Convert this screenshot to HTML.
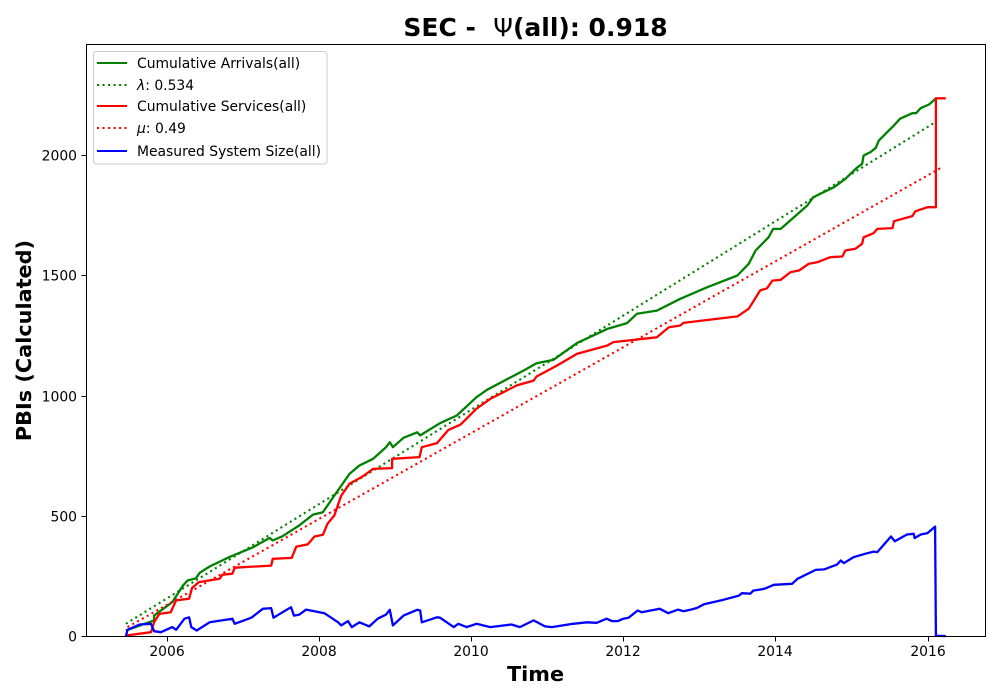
<!DOCTYPE html>
<html>
<head>
<meta charset="utf-8">
<title>SEC chart</title>
<style>
html,body{margin:0;padding:0;background:#fff;}
svg{display:block;font-family:"DejaVu Sans","Liberation Sans",sans-serif;}
</style>
</head>
<body>
<svg id="chart" xmlns="http://www.w3.org/2000/svg" width="1000" height="700" viewBox="0 0 1000 700">
<rect x="0" y="0" width="1000" height="700" fill="#fff"/>
<g id="marks"></g>
<rect x="86.5" y="44.5" width="899" height="592" fill="none" stroke="#000" stroke-width="1"/>
<g id="ticks"></g>
<text x="535.5" y="36" text-anchor="middle" font-size="25" font-weight="bold" xml:space="preserve">SEC -  <tspan font-weight="normal">Ψ</tspan>(all): 0.918</text>
<text x="535.5" y="681" text-anchor="middle" font-size="20.8" font-weight="bold">Time</text>
<text transform="translate(31,340.5) rotate(-90)" text-anchor="middle" font-size="20.8" font-weight="bold">PBIs (Calculated)</text>
<g>
<rect x="93.5" y="51.5" width="233.5" height="112.5" rx="3" fill="#fff" fill-opacity="0.8" stroke="#ccc" stroke-width="1"/>
<g><line x1="97" x2="127" y1="63" y2="63" stroke="#008000" stroke-width="2.08"/><text x="137" y="68" font-size="13.9" fill="#000">Cumulative Arrivals(all)</text></g>
<g><line x1="97" x2="127" y1="85" y2="85" stroke="#008000" stroke-width="2.08" stroke-dasharray="2.08 3.43"/><text x="137" y="90" font-size="13.9" fill="#000"><tspan font-style="italic">λ</tspan>: 0.534</text></g>
<g><line x1="97" x2="127" y1="106" y2="106" stroke="#ff0000" stroke-width="2.08"/><text x="137" y="111" font-size="13.9" fill="#000">Cumulative Services(all)</text></g>
<g><line x1="97" x2="127" y1="128" y2="128" stroke="#ff0000" stroke-width="2.08" stroke-dasharray="2.08 3.43"/><text x="137" y="133" font-size="13.9" fill="#000"><tspan font-style="italic">μ</tspan>: 0.49</text></g>
<g><line x1="97" x2="127" y1="151" y2="151" stroke="#0000ff" stroke-width="2.08"/><text x="137" y="156" font-size="13.9" fill="#000">Measured System Size(all)</text></g>
</g>
</svg>
<script>
const xTickLabels = [2006, 2008, 2010, 2012, 2014, 2016];
const yTickLabels = [0, 500, 1000, 1500, 2000];

const arrivalYears = [2005.46,2005.83,2005.83,2006.07,2006.21,2006.27,2006.38,2006.43,2006.56,2006.82,2007.13,2007.35,2007.39,2007.52,2007.74,2007.92,2008.05,2008.20,2008.40,2008.53,2008.71,2008.88,2008.93,2008.97,2009.11,2009.29,2009.33,2009.59,2009.81,2010.07,2010.21,2010.69,2010.86,2011.08,2011.39,2011.79,2012.05,2012.18,2012.44,2012.75,2013.10,2013.50,2013.65,2013.74,2013.91,2013.97,2014.07,2014.42,2014.50,2014.77,2014.92,2015.07,2015.14,2015.16,2015.25,2015.32,2015.36,2015.56,2015.64,2015.80,2015.85,2015.91,2016.02,2016.11];
const arrivalValues = [25,67,87,143,212,233,242,265,291,330,371,410,399,417,462,507,517,586,676,711,739,787,808,787,826,849,836,887,919,995,1026,1106,1136,1150,1220,1279,1303,1342,1355,1404,1452,1501,1550,1605,1660,1695,1695,1792,1827,1868,1903,1949,1965,2000,2014,2032,2062,2125,2153,2176,2176,2197,2212,2237];

const serviceYears = [2005.46,2005.79,2005.83,2005.90,2006.05,2006.12,2006.29,2006.33,2006.42,2006.69,2006.73,2006.86,2006.89,2007.37,2007.39,2007.64,2007.70,2007.85,2007.94,2008.05,2008.11,2008.20,2008.29,2008.40,2008.57,2008.71,2008.96,2008.96,2009.32,2009.35,2009.55,2009.70,2009.86,2010.07,2010.25,2010.60,2010.82,2010.86,2011.13,2011.39,2011.79,2011.87,2012.44,2012.60,2012.75,2012.79,2013.50,2013.65,2013.80,2013.89,2013.96,2014.07,2014.20,2014.31,2014.44,2014.55,2014.72,2014.88,2014.92,2015.05,2015.14,2015.16,2015.29,2015.34,2015.54,2015.56,2015.80,2015.84,2016.00,2016.11,2016.11,2016.24];
const serviceValues = [4,18,59,94,101,150,157,202,226,240,257,261,286,295,323,327,374,383,416,423,469,503,586,635,665,697,700,739,746,787,804,859,881,947,988,1044,1064,1081,1127,1175,1210,1224,1244,1286,1293,1304,1331,1363,1439,1448,1480,1483,1515,1522,1550,1556,1577,1580,1605,1612,1633,1660,1677,1695,1698,1727,1748,1768,1785,1785,2238,2238];

const sizeYears = [2005.46,2005.48,2005.64,2005.79,2005.83,2005.92,2006.07,2006.12,2006.23,2006.29,2006.32,2006.39,2006.56,2006.86,2006.89,2007.11,2007.26,2007.37,2007.40,2007.63,2007.67,2007.74,2007.83,2008.07,2008.25,2008.29,2008.38,2008.43,2008.53,2008.66,2008.77,2008.88,2008.93,2008.97,2009.11,2009.29,2009.33,2009.35,2009.55,2009.59,2009.77,2009.83,2009.94,2010.07,2010.25,2010.53,2010.64,2010.82,2010.97,2011.06,2011.34,2011.52,2011.65,2011.78,2011.85,2011.93,2012.00,2012.07,2012.19,2012.24,2012.48,2012.59,2012.72,2012.79,2012.88,2012.97,2013.06,2013.32,2013.52,2013.56,2013.67,2013.71,2013.85,2013.98,2014.22,2014.29,2014.53,2014.64,2014.81,2014.86,2014.90,2015.03,2015.18,2015.29,2015.34,2015.52,2015.57,2015.73,2015.82,2015.83,2015.91,2016.00,2016.10,2016.11,2016.24];
const sizeValues = [0,28,50,53,22,18,39,28,74,80,39,25,59,74,53,78,115,118,78,122,87,91,112,97,59,46,64,39,59,42,74,91,111,46,87,111,108,59,80,78,39,53,39,53,39,50,39,67,42,39,53,59,57,74,64,64,74,78,108,101,115,97,112,105,111,119,134,153,170,180,178,191,198,215,219,240,277,279,299,316,305,330,344,353,351,416,396,424,427,409,424,430,457,3,2];

const lambdaYears = [2005.46, 2016.09];
const lambdaValues = [53, 2136];
const muYears = [2005.48, 2016.19];
const muValues = [39, 1951];

function xAxis(year) { return 167 + (year - 2006) * 76.05; }
function yAxis(value) { return 636.5 - value * 0.2405; }

const SVGNS = 'http://www.w3.org/2000/svg';
const marks = document.getElementById('marks');
const ticks = document.getElementById('ticks');

function drawSeries(name, years, values, color, dash) {
  const line = document.createElementNS(SVGNS, 'polyline');
  
  
  line.setAttribute('points', years.map((y, i) => xAxis(y).toFixed(1) + ',' + yAxis(values[i]).toFixed(1)).join(' '));
  line.setAttribute('fill', 'none');
  line.setAttribute('stroke', color);
  line.setAttribute('stroke-width', dash ? '2.08' : '2.3');
  line.setAttribute('stroke-linejoin', 'round');
  if (dash) line.setAttribute('stroke-dasharray', dash);
  marks.appendChild(line);
}

drawSeries('cumulative-arrivals-line', arrivalYears, arrivalValues, '#008000');
drawSeries('lambda-line', lambdaYears, lambdaValues, '#008000', '2.08 3.43');
drawSeries('cumulative-services-line', serviceYears, serviceValues, '#ff0000');
drawSeries('mu-line', muYears, muValues, '#ff0000', '2.08 3.43');
drawSeries('system-size-line', sizeYears, sizeValues, '#0000ff');

xTickLabels.forEach(function (label) {
  const px = Math.round(xAxis(label)) + 0.5;
  const mark = document.createElementNS(SVGNS, 'line');
  
  
  mark.setAttribute('x1', px);
  mark.setAttribute('x2', px);
  mark.setAttribute('y1', 636.5);
  mark.setAttribute('y2', 641.5);
  mark.setAttribute('stroke', '#000');
  ticks.appendChild(mark);
  const text = document.createElementNS(SVGNS, 'text');
  
  
  text.setAttribute('x', px - 0.5);
  text.setAttribute('y', 656);
  text.setAttribute('text-anchor', 'middle');
  text.setAttribute('font-size', '13.9');
  text.textContent = label;
  ticks.appendChild(text);
});

yTickLabels.forEach(function (label) {
  const py = Math.round(yAxis(label) - 0.5) + 0.5;
  const mark = document.createElementNS(SVGNS, 'line');
  
  
  mark.setAttribute('x1', 81.5);
  mark.setAttribute('x2', 86.5);
  mark.setAttribute('y1', py);
  mark.setAttribute('y2', py);
  mark.setAttribute('stroke', '#000');
  ticks.appendChild(mark);
  const text = document.createElementNS(SVGNS, 'text');
  
  
  text.setAttribute('x', 77);
  text.setAttribute('y', py + 5);
  text.setAttribute('text-anchor', 'end');
  text.setAttribute('font-size', '13.9');
  text.textContent = label;
  ticks.appendChild(text);
});
</script>
</body>
</html>
